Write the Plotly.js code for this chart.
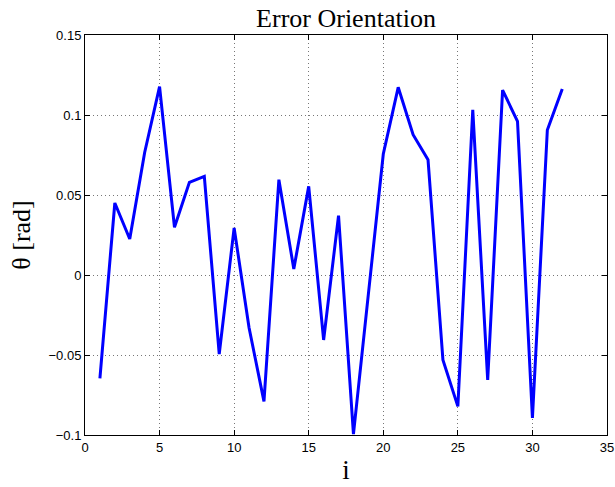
<!DOCTYPE html>
<html>
<head>
<meta charset="utf-8">
<script src="https://cdn.plot.ly/plotly-3.0.1.min.js"></script>
<style>html,body{margin:0;padding:0;background:#fff;}#chart{width:615px;height:487px;}</style>
</head>
<body>
<div id="chart"></div>
<script>
var idx = [1,2,3,4,5,6,7,8,9,10,11,12,13,14,15,16,17,18,19,20,21,22,23,24,25,26,27,28,29,30,31,32];
var theta = [-0.0646,0.045,0.0225,0.0766,0.1177,0.0298,0.0579,0.0616,-0.0494,0.0294,
             -0.033,-0.079,0.0596,0.0038,0.0554,-0.0406,0.0371,-0.0994,-0.012,0.0756,
             0.1173,0.0877,0.072,-0.0531,-0.0821,0.1033,-0.0656,0.1156,0.096,-0.0894,
             0.0906,0.1163];
var xTicks = [0,5,10,15,20,25,30,35];
var yTicks = [-0.1,-0.05,0,0.05,0.1,0.15];
var yTickText = ['\u22120.1','\u22120.05','0','0.05','0.1','0.15'];

var serif = 'Liberation Serif, Times New Roman, serif';

var trace = {x: idx, y: theta, type: 'scatter', mode: 'lines',
  line: {color: '#0000ff', width: 3}, hoverinfo: 'none'};

var axisCommon = {
  showline: true, linecolor: '#000', linewidth: 1, mirror: 'ticks',
  ticks: 'inside', ticklen: 5, tickcolor: '#000', tickwidth: 1,
  showgrid: true, gridcolor: '#777', griddash: '1px,3px', gridwidth: 1,
  zeroline: false,
  tickfont: {family: 'Liberation Sans, Arial, sans-serif', size: 13, color: '#000'}
};

var layout = {
  width: 615, height: 487,
  margin: {l: 85, r: 8, t: 35, b: 52},
  paper_bgcolor: '#fff', plot_bgcolor: '#fff',
  showlegend: false,
  title: {text: 'Error Orientation', x: 0.5, xref: 'paper', xanchor: 'center',
    y: 1 - 18/487, yref: 'container', yanchor: 'middle',
    font: {family: serif, size: 26, color: '#000'}},
  xaxis: Object.assign({}, axisCommon, {range: [0, 35], tickvals: xTicks,
    ticktext: xTicks.map(String),
    title: {text: 'i', standoff: 6, font: {family: serif, size: 27, color: '#000'}}}),
  yaxis: Object.assign({}, axisCommon, {range: [-0.1, 0.15], tickvals: yTicks,
    ticktext: yTickText,
    title: {text: '\u03b8 [rad]', standoff: 10, font: {family: serif, size: 26, color: '#000'}}})
};

Plotly.newPlot('chart', [trace], layout, {displayModeBar: false, staticPlot: true});
</script>
</body>
</html>
